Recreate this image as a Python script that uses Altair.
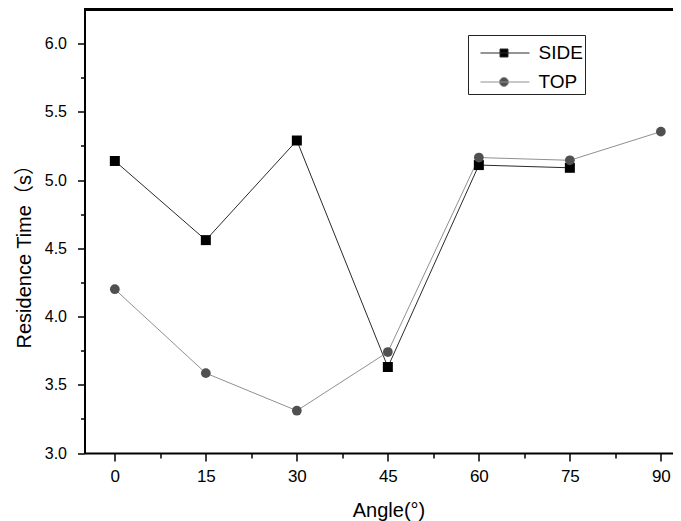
import altair as alt
import pandas as pd

# ---- data ----
series_names = ["SIDE", "TOP"]
side_angles = [0, 15, 30, 45, 60, 75]
side_values = [5.14, 4.56, 5.29, 3.63, 5.11, 5.09]
top_angles = [0, 15, 30, 45, 60, 75, 90]
top_values = [4.20, 3.585, 3.31, 3.74, 5.165, 5.145, 5.355]

x_major = [0, 15, 30, 45, 60, 75, 90]
x_minor = [7.5, 22.5, 37.5, 52.5, 67.5, 82.5]
y_major = [3.0, 3.5, 4.0, 4.5, 5.0, 5.5, 6.0]
y_minor = [3.25, 3.75, 4.25, 4.75, 5.25, 5.75]

line_colors = ["#2a2a2a", "#909090"]
marker_colors = ["#000000", "#505050"]

rows = [{"angle": a, "value": v, "series": "SIDE"} for a, v in zip(side_angles, side_values)]
rows += [{"angle": a, "value": v, "series": "TOP"} for a, v in zip(top_angles, top_values)]
df = pd.DataFrame(rows)

FONT = "Liberation Sans, Arial, Noto Sans CJK SC, sans-serif"

x_enc = alt.X(
    "angle:Q",
    scale=alt.Scale(domain=[-5, 92.0], nice=False, zero=False),
    axis=alt.Axis(
        values=sorted(x_major + x_minor),
        labelExpr="datum.value % 15 === 0 ? datum.label : ''",
        tickSize={"condition": {"test": "datum.value % 15 === 0", "value": 8}, "value": 5},
        grid=False,
        domainColor="black",
        domainWidth=2,
        tickColor="black",
        tickWidth=1.5,
        labelColor="black",
        labelFont=FONT,
        labelFontSize=17,
        labelPadding=7,
        labelFlush=False,
        title="Angle(°)",
        titleFont=FONT,
        titleFontSize=20,
        titleFontWeight="normal",
        titleColor="black",
        titleX=304,
        titleY=63,
        titleAlign="center",
        titleBaseline="alphabetic",
    ),
)

y_enc = alt.Y(
    "value:Q",
    scale=alt.Scale(domain=[3.0, 6.25], nice=False, zero=False),
    axis=alt.Axis(
        values=sorted(y_major + y_minor),
        labelExpr="datum.value % 0.5 === 0 ? format(datum.value, '.1f') : ''",
        tickSize={"condition": {"test": "datum.value % 0.5 === 0", "value": 7}, "value": 4},
        grid=False,
        domainColor="black",
        domainWidth=2,
        tickColor="black",
        tickWidth=1.5,
        labelColor="black",
        labelFont=FONT,
        labelFontSize=16,
        labelPadding=11,
        labelFlush=False,
        title="Residence Time（s）",
        titleFont=FONT,
        titleFontSize=20,
        titleFontWeight="normal",
        titleColor="black",
        titleAngle=270,
        titleX=-54.5,
        titleY=338.5,
        titleAlign="left",
        titleBaseline="alphabetic",
    ),
)

base = alt.Chart(df)

top_frame = base.mark_rule(color="black", strokeWidth=2).encode(y=alt.value(0))

side_line = base.transform_filter(alt.datum.series == "SIDE").mark_line(
    color=line_colors[0], strokeWidth=1
).encode(x=x_enc, y=y_enc)
top_line = base.transform_filter(alt.datum.series == "TOP").mark_line(
    color=line_colors[1], strokeWidth=1
).encode(x=x_enc, y=y_enc)

side_pts = base.transform_filter(alt.datum.series == "SIDE").mark_point(
    shape="square", filled=True, size=100, color=marker_colors[0], opacity=1
).encode(x=x_enc, y=y_enc)
top_pts = base.transform_filter(alt.datum.series == "TOP").mark_point(
    shape="circle", filled=True, size=95, color=marker_colors[1], opacity=1
).encode(x=x_enc, y=y_enc)

# legend symbols: a line with a marker on it (custom paths, unit = sqrt(size)/2 px)
side_sym = "M0.2,0H10M4.1,-0.8H5.7V0.8H4.1Z"
top_sym = "M0.2,0H10M4.0,0A0.9,0.9,0,1,0,5.8,0A0.9,0.9,0,1,0,4.0,0Z"

leg = alt.Legend(
    title=" ",
    titleFontSize=1,
    titlePadding=5.5,
    labelExpr="datum.label + '\u00a0\u00a0'",
    orient="none",
    legendX=383.5,
    legendY=25.5,
    padding=2,
    strokeColor="#222222",
    fillColor="white",
    labelFont=FONT,
    labelFontSize=19,
    labelColor="black",
    labelOffset=49.5,
    rowPadding=9,
    symbolSize=100,
    symbolStrokeWidth=1,
    cornerRadius=0,
)

legend_layer = base.transform_filter("false").mark_point(
    filled=True, size=100, strokeWidth=1, opacity=1
).encode(
    x=x_enc,
    y=y_enc,
    shape=alt.Shape("series:N", scale=alt.Scale(domain=series_names, range=[side_sym, top_sym]),
                    legend=leg),
    fill=alt.Fill("series:N", scale=alt.Scale(domain=series_names, range=marker_colors),
                  legend=leg),
    stroke=alt.Stroke("series:N", scale=alt.Scale(domain=series_names, range=line_colors),
                      legend=leg),
)

chart = alt.layer(top_frame, side_line, top_line, side_pts, top_pts, legend_layer).properties(
    width=588.5,
    height=443.5,
    padding={"left": 76.5, "top": 1.5, "right": 0, "bottom": 68},
    autosize=alt.AutoSizeParams(type="none"),
).configure_view(stroke=None).configure(background="white")

chart.save("out.html", embed_options={"renderer": "svg", "actions": False})
